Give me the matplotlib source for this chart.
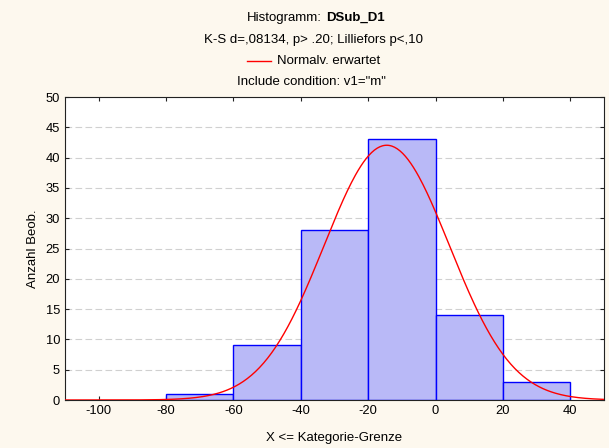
import numpy as np
import matplotlib
matplotlib.use("Agg")
import matplotlib.pyplot as plt
from matplotlib.lines import Line2D

bin_edges = [-80, -60, -40, -20, 0, 20, 40]
counts = [1, 9, 28, 43, 14, 3]
norm_mean = -14.5
norm_sd = 18.6
x_ticks = [-100, -80, -60, -40, -20, 0, 20, 40]
y_ticks = [0, 5, 10, 15, 20, 25, 30, 35, 40, 45, 50]

bg = "#fdf8ee"
plt.rcParams['font.family'] = ['Liberation Sans', 'DejaVu Sans']
plt.rcParams['axes.unicode_minus'] = False

fig = plt.figure(figsize=(6.09, 4.48), dpi=100, facecolor=bg)
ax = fig.add_axes([65/609, 1 - 400/448, (604-65)/609, (400-97)/448])
ax.set_facecolor("white")

widths = np.diff(bin_edges)
ax.bar(bin_edges[:-1], counts, width=widths, align='edge',
       facecolor="#b9b9f7", edgecolor="#0000ff", linewidth=1.0, zorder=2)

n = sum(counts)
bw = widths[0]
xs = np.linspace(-110, 50, 400)
ys = n * bw / (norm_sd * np.sqrt(2 * np.pi)) * np.exp(-0.5 * ((xs - norm_mean) / norm_sd) ** 2)
ax.plot(xs, ys, color="#ff0000", linewidth=1.0, zorder=3)

ax.set_xlim(-110, 50)
ax.set_ylim(0, 50)
ax.set_xticks(x_ticks)
ax.set_yticks(y_ticks)
ax.tick_params(direction='in', top=True, right=True, labelsize=9.3, length=3, color="#222222")
ax.yaxis.grid(True, linestyle=(0, (6, 3)), color="#d0d0d0", linewidth=0.8, zorder=1)
ax.set_axisbelow(True)
for s in ax.spines.values():
    s.set_color("#222222")
    s.set_linewidth(0.8)

fs = 9.5
ax.set_xlabel("X <= Kategorie-Grenze", fontsize=fs, labelpad=11)
ax.set_ylabel("Anzahl Beob.", fontsize=fs, labelpad=5)

fig.text(322/609, 1 - 18/448, "Histogramm:", ha='right', va='center', fontsize=fs)
fig.text(326/609, 1 - 18/448, "DSub_D1", ha='left', va='center', fontsize=fs, fontweight='bold')
fig.text(314/609, 1 - 40/448, "K-S d=,08134, p> .20; Lilliefors p<,10", ha='center', va='center', fontsize=fs)
fig.text(277/609, 1 - 61/448, "Normalv. erwartet", ha='left', va='center', fontsize=fs)
fig.add_artist(Line2D([247/609, 271/609], [1 - 61/448, 1 - 61/448], color="#ff0000", linewidth=1.0))
fig.text(311/609, 1 - 82/448, 'Include condition: v1="m"', ha='center', va='center', fontsize=fs)

fig.savefig("out.png", dpi=100, facecolor=bg)
